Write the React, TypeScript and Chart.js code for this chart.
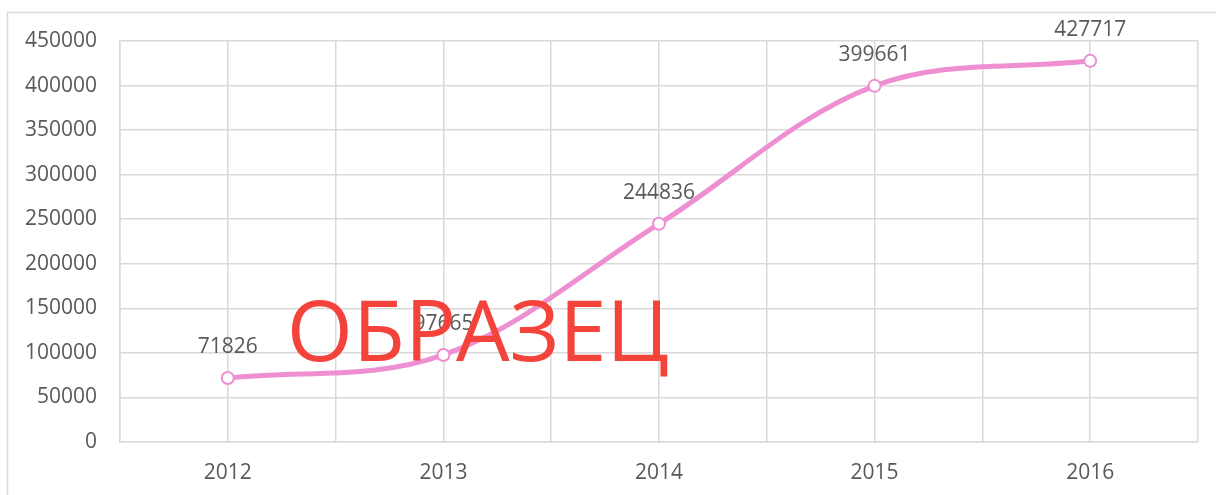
import React, { useEffect, useRef } from "react";
import { Chart, registerables } from "chart.js";

Chart.register(...registerables);

const categories = ["2012", "2013", "2014", "2015", "2016"];
const values = [71826, 97665, 244836, 399661, 427717];
const watermark = "ОБРАЗЕЦ";

const FONT = "'Open Sans', sans-serif";
const TEXT = "#595959";
const GRID = "#d9d9d9";
const LINE = "#ee8fd2";

export default function App() {
  const ref = useRef<HTMLCanvasElement | null>(null);

  useEffect(() => {
    const canvas = ref.current;
    if (!canvas) return;

    const framePlugin = {
      id: "frame",
      beforeDraw(chart: any) {
        const ctx = chart.ctx;
        ctx.save();
        ctx.fillStyle = "#ffffff";
        ctx.fillRect(0, 0, chart.width, chart.height);
        ctx.strokeStyle = GRID;
        ctx.lineWidth = 1.5;
        ctx.strokeRect(7.5, 12.5, chart.width + 20, chart.height + 20);
        ctx.restore();
      },
    };

    const labelPlugin = {
      id: "valueLabels",
      afterDatasetsDraw(chart: any) {
        const ctx = chart.ctx;
        const meta = chart.getDatasetMeta(0);
        ctx.save();
        ctx.font = `21px ${FONT}`;
        ctx.fillStyle = TEXT;
        ctx.textAlign = "center";
        ctx.textBaseline = "middle";
        meta.data.forEach((pt: any, i: number) => {
          ctx.fillText(String(values[i]), pt.x, pt.y - 31);
        });
        ctx.restore();
      },
    };

    const watermarkPlugin = {
      id: "watermark",
      afterDraw(chart: any) {
        const ctx = chart.ctx;
        ctx.save();
        ctx.font = `85px ${FONT}`;
        ctx.fillStyle = "#f4433a";
        ctx.textAlign = "center";
        ctx.textBaseline = "alphabetic";
        ctx.fillText(watermark, 478, 361);
        ctx.restore();
      },
    };

    const chart = new Chart(canvas, {
      type: "line",
      data: {
        datasets: [
          {
            data: values.map((v, i) => ({ x: i, y: v })),
            borderColor: LINE,
            borderWidth: 5,
            tension: 0.35,
            pointRadius: 6,
            pointBorderWidth: 2,
            pointBackgroundColor: "#ffffff",
            pointBorderColor: LINE,
            fill: false,
          },
        ],
      },
      options: {
        animation: false,
        responsive: false,
        layout: { padding: { left: 0, right: 13, top: 41, bottom: 0 } },
        plugins: {
          legend: { display: false },
          tooltip: { enabled: false },
        },
        scales: {
          x: {
            type: "linear",
            min: -0.5,
            max: 4.5,
            afterFit: (s: any) => {
              s.height = 53;
            },
            grid: { color: GRID, lineWidth: 1.5, drawTicks: false },
            border: { color: GRID, width: 1.5 },
            ticks: {
              stepSize: 0.5,
              autoSkip: false,
              maxRotation: 0,
              padding: 18,
              color: TEXT,
              font: { family: FONT, size: 21 },
              callback: (v: any) =>
                Number.isInteger(v) ? categories[v as number] : "",
            },
          },
          y: {
            min: 0,
            max: 450000,
            afterFit: (s: any) => {
              s.width = 120;
            },
            grid: { color: GRID, lineWidth: 1.5, drawTicks: false },
            border: { color: GRID, width: 1.5 },
            ticks: {
              stepSize: 50000,
              padding: 23,
              color: TEXT,
              font: { family: FONT, size: 21 },
              callback: (v: any) => String(v),
            },
          },
        },
      },
      plugins: [framePlugin, labelPlugin, watermarkPlugin],
    });

    return () => chart.destroy();
  }, []);

  return (
    <div style={{ position: "absolute", left: 0, top: 0, width: 1216, height: 495 }}>
      <canvas ref={ref} width={1216} height={495} />
    </div>
  );
}
